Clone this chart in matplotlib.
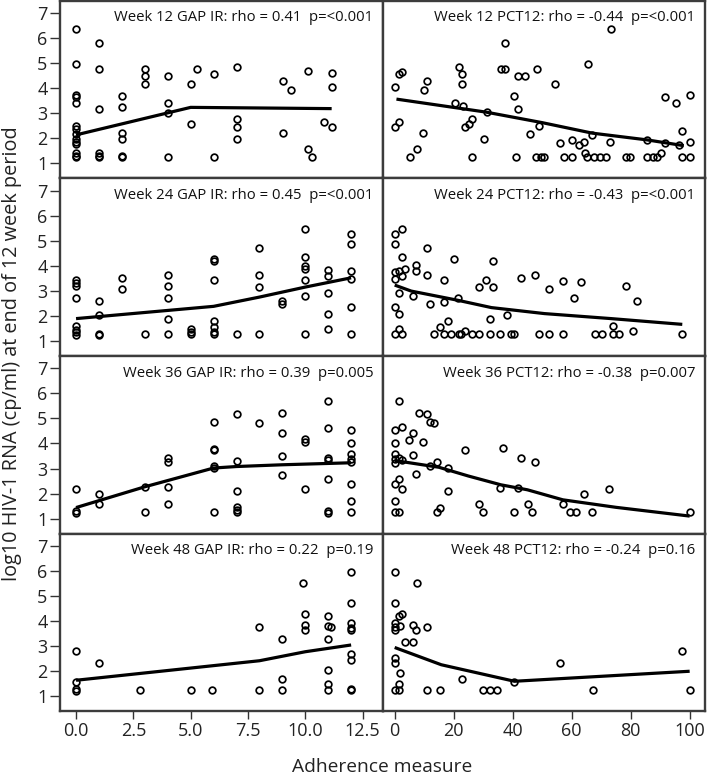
import matplotlib
matplotlib.use("Agg")
import matplotlib.pyplot as plt

plt.rcParams['font.family'] = ['Open Sans', 'DejaVu Sans']

# ---------------- data ----------------
row_titles_gap = ["Week 12 GAP IR: rho = 0.41  p=<0.001",
                  "Week 24 GAP IR: rho = 0.45  p=<0.001",
                  "Week 36 GAP IR: rho = 0.39  p=0.005",
                  "Week 48 GAP IR: rho = 0.22  p=0.19"]
row_titles_pct = ["Week 12 PCT12: rho = -0.44  p=<0.001",
                  "Week 24 PCT12: rho = -0.43  p=<0.001",
                  "Week 36 PCT12: rho = -0.38  p=0.007",
                  "Week 48 PCT12: rho = -0.24  p=0.16"]

w12_gap_x = [0, 0, 0, 0, 0, 0, 0, 0, 0, 0, 0, 0, 0, 0, 1, 1, 1, 1, 1, 1, 2, 2, 2, 2, 2, 2,
             3, 3, 3, 4, 4, 4, 4, 5, 5, 5.26, 6, 6, 7, 7, 7, 7, 9.03, 9.03, 9.36,
             10.13, 10.13, 10.28, 10.83, 11.15, 11.15, 11.15]
w12_gap_y = [6.36, 4.98, 3.72, 3.65, 3.42, 2.50, 2.35, 2.15, 1.95, 1.85, 1.75, 1.40, 1.30, 1.25,
             5.79, 4.77, 3.16, 1.40, 1.30, 1.25, 3.67, 3.26, 2.19, 1.96, 1.27, 1.24,
             4.78, 4.49, 4.17, 4.49, 3.39, 3.02, 1.25, 4.17, 2.55, 4.76, 4.57, 1.25,
             4.86, 2.77, 2.43, 1.98, 4.28, 2.21, 3.92, 4.67, 1.57, 1.25, 2.65, 4.60, 4.03, 2.43]
w12_gap_fit_x = [0, 5, 11.15]
w12_gap_fit_y = [2.13, 3.23, 3.18]

w12_pct_x = [0, 1.4, 2.6, 0, 1.6, 5.1, 7.5, 9.5, 10.1, 11.1, 20.6, 21.7, 22.9, 22.9, 23.1,
             23.95, 25.2, 26.3, 26.2, 30.2, 31.3, 36.2, 37.4, 37.4, 40.5, 41.8, 41.0, 41.9,
             44.1, 45.9, 48.2, 48.8, 48.0, 49.5, 50.5, 54.2, 56.2, 57.3, 60.2, 60.2, 62.6,
             64.1, 64.6, 65.3, 65.4, 66.8, 67.6, 69.6, 71.5, 72.9, 73.4, 78.5, 79.7, 85.6,
             85.6, 87.7, 89.0, 90.4, 91.5, 91.8, 95.3, 96.4, 97.5, 97.5, 100, 100, 100]
w12_pct_y = [4.04, 4.58, 4.65, 2.43, 2.63, 1.25, 1.57, 2.21, 3.93, 4.28, 3.39, 4.86, 4.58, 4.17, 3.27,
             2.45, 2.57, 2.77, 1.25, 1.98, 3.03, 4.76, 4.76, 5.79, 3.67, 3.16, 1.25, 4.49,
             4.49, 2.18, 4.77, 2.50, 1.25, 1.25, 1.25, 4.17, 1.81, 1.25, 1.94, 1.25, 1.73,
             1.84, 1.40, 1.25, 4.98, 2.14, 1.25, 1.25, 1.25, 1.84, 6.36, 1.25, 1.25, 1.93,
             1.25, 1.25, 1.25, 1.40, 3.65, 1.80, 3.42, 1.74, 2.30, 1.25, 3.72, 1.84, 1.25]
w12_pct_fit_x = [0.6, 31, 50, 67, 85.6, 98]
w12_pct_fit_y = [3.56, 3.04, 2.62, 2.20, 1.93, 1.70]

w24_gap_x = [0, 0, 0, 0, 0, 0, 0, 0, 1, 1, 1, 1, 2, 2, 3, 4, 4, 4, 4, 4, 5, 5, 5,
             6, 6, 6, 6, 6, 6, 6, 7, 8, 8, 8, 8, 9, 9, 10, 10, 10, 10, 10, 10, 10,
             11, 11, 11, 11, 11, 12, 12, 12, 12, 12, 12]
w24_gap_y = [3.42, 3.32, 3.19, 2.73, 1.60, 1.42, 1.35, 1.24, 2.58, 2.04, 1.29, 1.24, 3.51, 3.07,
             1.27, 3.65, 3.18, 2.71, 1.89, 1.27, 1.49, 1.37, 1.27,
             4.27, 4.20, 3.42, 1.80, 1.56, 1.35, 1.27, 1.27, 4.72, 3.64, 3.16, 1.27, 2.58, 2.49,
             5.47, 4.35, 4.01, 3.88, 3.42, 2.79, 1.27, 3.85, 3.59, 2.91, 2.06, 1.48,
             5.26, 4.86, 3.79, 3.46, 2.34, 1.27]
w24_gap_fit_x = [0, 6, 8, 10, 12]
w24_gap_fit_y = [1.89, 2.38, 2.75, 3.15, 3.52]

w24_pct_x = [0, 2.5, 0, 2.5, 0, 1.4, 3.6, 2.5, 0, 1.4, 6.1, 7.2, 7.2, 10.8, 10.8, 12.0, 0, 1.4,
             0, 1.4, 2.5, 13.3, 15.5, 16.7, 16.7, 18.0, 16.7, 19.1, 20.2, 21.4, 21.7, 24.0,
             22.6, 26.2, 28.7, 28.7, 31.0, 33.3, 33.4, 32.2, 32.2, 35.8, 38.2, 39.3, 40.5,
             42.9, 47.6, 48.8, 52.4, 52.4, 57.2, 57.2, 60.7, 63.2, 67.8, 70.3, 73.9, 73.9,
             76.2, 78.5, 80.9, 82.1, 97.5]
w24_pct_y = [5.26, 5.47, 4.86, 4.35, 3.77, 3.81, 3.88, 3.59, 3.46, 2.92, 2.81, 4.03, 3.81, 4.72,
             3.64, 2.47, 2.35, 2.06, 1.29, 1.49, 1.29, 1.27, 1.56, 3.43, 2.57, 1.78, 1.27, 1.27,
             4.27, 2.71, 1.27, 1.40, 1.27, 1.27, 1.27, 3.16, 3.43, 4.21, 3.16, 1.89, 1.27, 1.27,
             2.04, 1.27, 1.27, 3.51, 3.65, 1.27, 3.08, 1.27, 3.40, 1.27, 2.73, 3.34, 1.27, 1.27,
             1.60, 1.27, 1.27, 3.20, 1.41, 2.58, 1.27]
w24_pct_fit_x = [0, 5.6, 21.5, 32.8, 50.8, 73.4, 97.5]
w24_pct_fit_y = [3.23, 2.99, 2.62, 2.33, 2.09, 1.89, 1.66]

w36_gap_x = [0, 0, 0, 1, 1, 3, 3, 4, 4, 4, 4, 6, 6, 6, 6, 6, 6, 7, 7, 7, 7, 7, 7, 8,
             9, 9, 9, 9, 10, 10, 10, 11, 11, 11, 11, 11, 11, 11, 12, 12, 12, 12, 12, 12, 12, 12]
w36_gap_y = [2.18, 1.29, 1.21, 2.00, 1.57, 2.25, 1.25, 3.42, 3.26, 2.25, 1.60,
             4.84, 3.80, 3.76, 3.12, 3.02, 1.25, 5.18, 3.30, 2.10, 1.45, 1.35, 1.25, 4.81,
             5.21, 4.41, 3.51, 2.75, 4.16, 4.05, 2.18, 5.69, 4.62, 3.44, 3.35, 2.58, 1.29, 1.23,
             4.52, 4.03, 3.59, 3.39, 3.26, 2.39, 1.72, 1.25]
w36_gap_fit_x = [0, 3, 6, 7, 9, 12]
w36_gap_fit_y = [1.44, 2.27, 3.02, 3.08, 3.15, 3.23]

w36_pct_x = [1.4, 8.2, 10.8, 12.0, 13.3, 0, 2.5, 6.1, 0, 4.7, 9.5, 6.1, 0, 0, 1.4, 2.5, 0, 14.2,
             12.0, 18.0, 7.2, 1.4, 0, 2.5, 18.0, 0, 0, 1.4, 14.2, 15.5, 23.8, 28.7, 29.9,
             35.8, 36.8, 40.6, 41.8, 42.8, 45.3, 46.6, 47.6, 57.2, 59.4, 61.4, 64.3, 66.8,
             72.7, 100]
w36_pct_y = [5.69, 5.22, 5.18, 4.84, 4.81, 4.52, 4.64, 4.42, 4.03, 4.15, 4.05, 3.54, 3.59, 3.39,
             3.42, 3.34, 3.23, 3.28, 3.12, 3.03, 2.77, 2.59, 2.39, 2.19, 2.09, 1.72, 1.25, 1.25,
             1.25, 1.42, 3.76, 1.60, 1.25, 2.23, 3.81, 1.25, 2.23, 3.43, 1.57, 1.25, 3.26,
             1.60, 1.25, 1.25, 2.00, 1.25, 2.18, 1.25]
w36_pct_fit_x = [0, 15, 25, 36, 45, 57, 75, 100]
w36_pct_fit_y = [3.32, 3.05, 2.70, 2.35, 2.15, 1.75, 1.45, 1.10]

w48_gap_x = [0, 0, 0, 0, 1, 2.8, 5, 5.93, 8, 8, 9, 9, 9, 9.91, 10, 10, 10,
             11, 11, 11, 11, 11, 11, 11.12, 12, 12, 12, 12, 12, 12, 12, 12, 12]
w48_gap_y = [2.82, 1.57, 1.29, 1.21, 2.34, 1.27, 1.27, 1.27, 3.77, 1.27, 3.30, 1.70, 1.27, 5.51,
             4.27, 3.84, 3.65, 4.20, 3.81, 3.30, 2.05, 1.49, 1.27, 3.76,
             5.96, 4.72, 3.92, 3.71, 3.63, 2.67, 2.46, 1.29, 1.24]
w48_gap_fit_x = [0, 4, 8, 10, 12]
w48_gap_fit_y = [1.64, 2.03, 2.42, 2.78, 3.05]

w48_pct_x = [0, 7.6, 0, 1.4, 2.6, 0, 0, 0, 1.8, 6.1, 7.3, 10.8, 3.5, 6.1, 0, 0, 1.8, 1.4,
             0, 1.4, 10.8, 15.4, 22.7, 30.1, 32.4, 34.6, 40.6, 55.9, 67.2, 97.5, 100]
w48_pct_y = [5.96, 5.51, 4.72, 4.19, 4.27, 3.92, 3.76, 3.65, 3.80, 3.84, 3.65, 3.76, 3.18, 3.18,
             2.54, 2.33, 1.92, 1.49, 1.27, 1.27, 1.27, 1.27, 1.70, 1.27, 1.27, 1.27, 1.57,
             2.34, 1.27, 2.82, 1.27]
w48_pct_fit_x = [0, 15.8, 40.6, 100]
w48_pct_fit_y = [2.95, 2.26, 1.60, 2.00]

gap_ticks = [0.0, 2.5, 5.0, 7.5, 10.0, 12.5]
gap_ticklabels = ["0.0", "2.5", "5.0", "7.5", "10.0", "12.5"]
pct_ticks = [0, 20, 40, 60, 80, 100]
y_ticks = [1, 2, 3, 4, 5, 6, 7]

gap_data = [(w12_gap_x, w12_gap_y, w12_gap_fit_x, w12_gap_fit_y),
            (w24_gap_x, w24_gap_y, w24_gap_fit_x, w24_gap_fit_y),
            (w36_gap_x, w36_gap_y, w36_gap_fit_x, w36_gap_fit_y),
            (w48_gap_x, w48_gap_y, w48_gap_fit_x, w48_gap_fit_y)]
pct_data = [(w12_pct_x, w12_pct_y, w12_pct_fit_x, w12_pct_fit_y),
            (w24_pct_x, w24_pct_y, w24_pct_fit_x, w24_pct_fit_y),
            (w36_pct_x, w36_pct_y, w36_pct_fit_x, w36_pct_fit_y),
            (w48_pct_x, w48_pct_y, w48_pct_fit_x, w48_pct_fit_y)]

# ---------------- figure ----------------
W, H = 708, 775
fig = plt.figure(figsize=(W / 100, H / 100), dpi=100)

left_px, mid_px, right_px = 60, 383, 705
top_px, row_h = 0.5, 177.7

spine_col = '#3c3c3c'

def style(ax, xlim, bottom, leftcol):
    ax.set_xlim(*xlim)
    ax.set_ylim(0.4, 7.5)
    for s in ax.spines.values():
        s.set_color(spine_col)
        s.set_linewidth(1.7)
    ax.tick_params(axis='both', direction='out', color='#333333', width=1.0,
                   labelsize=13, labelcolor='#222222')
    ax.tick_params(axis='y', length=7, pad=2)
    ax.tick_params(axis='x', length=5.5, pad=2.5)
    ax.set_yticks(y_ticks)
    if not leftcol:
        ax.tick_params(axis='y', left=False, labelleft=False)
    if not bottom:
        ax.tick_params(axis='x', bottom=False, labelbottom=False)

for r in range(4):
    y0 = H - (top_px + row_h * (r + 1))
    for c in range(2):
        x0 = left_px if c == 0 else mid_px
        x1 = mid_px if c == 0 else right_px
        ax = fig.add_axes([x0 / W, y0 / H, (x1 - x0) / W, row_h / H])
        if c == 0:
            xs, ys, fx, fy = gap_data[r]
            title = row_titles_gap[r]
            style(ax, (-0.7, 13.39), r == 3, True)
            ax.set_xticks(gap_ticks)
            ax.set_xticklabels(gap_ticklabels)
        else:
            xs, ys, fx, fy = pct_data[r]
            title = row_titles_pct[r]
            style(ax, (-3.96, 105.2), r == 3, False)
            ax.set_xticks(pct_ticks)
        ax.plot(xs, ys, linestyle='none', marker='o', markersize=4.8,
                markerfacecolor='none', markeredgecolor='black', markeredgewidth=1.25)
        ax.plot(fx, fy, color='black', linewidth=2.3, solid_capstyle='butt')
        ax.annotate(title, xy=(1, 1), xycoords='axes fraction',
                    xytext=(-7, -7), textcoords='offset points',
                    ha='right', va='top', fontsize=10.7, color='#111111')

fig.text(12 / W, 1 - 354 / H, "log10 HIV-1 RNA (cp/ml) at end of 12 week period",
         rotation=90, ha='center', va='center', fontsize=14.3, color='#222222')
fig.text(382 / W, 1 - 767 / H, "Adherence measure",
         ha='center', va='center', fontsize=13.8, color='#222222')

fig.savefig("out.png", dpi=100)
